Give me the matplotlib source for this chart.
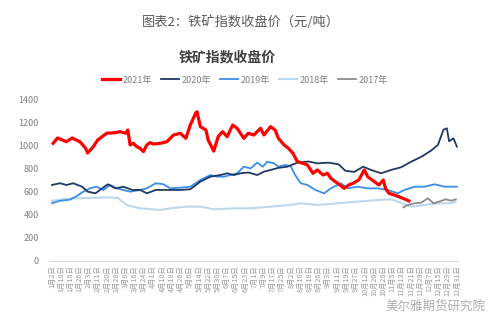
import numpy as np
import matplotlib
matplotlib.use("Agg")
import matplotlib.pyplot as plt

plt.rcParams['font.family'] = ['Noto Sans CJK SC', 'DejaVu Sans']

# day of year / index value for each year
d2021 = [3, 7, 15, 20, 27, 32, 34, 39, 43, 51, 59, 63, 68, 70, 72, 75, 78, 81, 84, 87,
         90, 93, 99, 105, 111, 117, 122, 126, 131, 132, 135, 140, 142, 147, 151, 155, 159,
         164, 168, 174, 178, 183, 189, 192, 198, 202, 205, 210, 214, 218, 222, 227, 231,
         236, 240, 245, 249, 252, 258, 264, 268, 272, 277, 282, 285, 291, 295, 299, 301,
         304, 309, 313, 318, 322]
v2021 = [1017, 1063, 1031, 1063, 1031, 976, 933, 988, 1046, 1104, 1109, 1118, 1104, 1132,
         1003, 1017, 988, 974, 945, 1003, 1023, 1011, 1017, 1031, 1089, 1104, 1060, 1175,
         1282, 1290, 1161, 1132, 1046, 950, 1075, 1118, 1074, 1175, 1147, 1060, 1104, 1089,
         1147, 1089, 1161, 1132, 1060, 1003, 974, 931, 858, 844, 830, 758, 787, 743, 758,
         715, 672, 628, 657, 672, 700, 787, 729, 686, 657, 700, 628, 585, 570, 556, 536, 519]

d2020 = [2, 9, 15, 21, 29, 34, 41, 47, 52, 59, 66, 74, 81, 87, 95, 102, 110, 117, 126, 135,
         144, 153, 159, 165, 171, 178, 186, 192, 198, 205, 213, 222, 232, 240, 250, 259,
         265, 273, 281, 288, 297, 306, 315, 324, 333, 342, 348, 353, 356, 358, 362, 365]
v2020 = [657, 672, 657, 672, 642, 599, 585, 628, 663, 628, 642, 614, 614, 585, 614, 614,
         614, 614, 620, 686, 729, 743, 758, 743, 758, 765, 743, 772, 787, 805, 815, 850,
         860, 844, 850, 835, 780, 770, 815, 787, 758, 787, 810, 858, 900, 955, 1003, 1135,
         1147, 1035, 1060, 988]

d2019 = [2, 9, 18, 24, 30, 36, 42, 48, 54, 60, 66, 72, 81, 87, 95, 102, 108, 117, 126, 135,
         144, 150, 156, 162, 168, 174, 180, 186, 191, 195, 201, 205, 211, 216, 220, 225,
         231, 238, 246, 252, 261, 267, 276, 285, 294, 303, 312, 318, 327, 336, 345, 354, 365]
v2019 = [500, 520, 530, 560, 599, 628, 642, 614, 657, 628, 614, 599, 614, 628, 672, 663,
         628, 634, 642, 700, 743, 729, 729, 743, 758, 815, 800, 850, 815, 858, 844, 815,
         830, 820, 743, 672, 657, 614, 585, 628, 672, 628, 642, 628, 628, 614, 585, 614,
         642, 642, 663, 642, 642]

d2018 = [2, 18, 36, 54, 61, 69, 81, 99, 108, 123, 135, 147, 165, 180, 198, 216, 225, 240,
         258, 276, 294, 306, 312, 324, 336, 348, 360, 364]
v2018 = [520, 540, 545, 550, 545, 484, 455, 441, 455, 470, 470, 447, 455, 455, 470, 484,
         499, 484, 499, 513, 527, 533, 513, 470, 484, 499, 499, 513]

d2017 = [317, 321, 327, 333, 339, 344, 349, 355, 360, 364]
v2017 = [464, 484, 499, 504, 542, 499, 513, 533, 521, 533]

xlabels = ["1月2日", "1月10日", "1月18日", "1月26日", "2月3日", "2月11日", "2月20日", "2月28日",
           "3月8日", "3月16日", "3月24日", "4月1日", "4月10日", "4月18日", "4月26日", "5月6日",
           "5月14日", "5月22日", "5月30日", "6月7日", "6月15日", "6月23日", "7月1日", "7月9日",
           "7月17日", "7月25日", "8月2日", "8月10日", "8月18日", "8月26日", "9月3日", "9月11日",
           "9月19日", "9月27日", "10月12日", "10月20日", "10月28日", "11月5日", "11月13日",
           "11月21日", "11月29日", "12月7日", "12月15日", "12月23日", "12月31日"]

fig = plt.figure(figsize=(5, 3.26), dpi=100)
ax = fig.add_axes([0.1, 0.1994, 0.816, 0.4969])

ax.plot(d2018, v2018, color="#bdd7ee", lw=1.5, label="2018年", zorder=2)
ax.plot(d2017, v2017, color="#8c8c8c", lw=1.3, label="2017年", zorder=3)
ax.plot(d2019, v2019, color="#3a8ee6", lw=1.3, label="2019年", zorder=4)
ax.plot(d2020, v2020, color="#203864", lw=1.3, label="2020年", zorder=5)
ax.plot(d2021, v2021, color="#ff0000", lw=2.3, label="2021年", zorder=6)

ax.set_xlim(0.2, 366)
ax.set_ylim(0, 1400)
ax.set_yticks(np.arange(0, 1401, 200))
ax.set_xticks(np.linspace(2, 365, len(xlabels)))
ax.set_xticklabels(xlabels, rotation=90, fontsize=5.2, color="#9a9a9a")
ax.tick_params(axis="y", labelsize=6.5, labelcolor="#7f7f7f", length=0, pad=8)
ax.tick_params(axis="x", length=0, pad=3)
for s in ["top", "right", "left"]:
    ax.spines[s].set_visible(False)
ax.spines["bottom"].set_color("#d9d9d9")

handles, labels = ax.get_legend_handles_labels()
order = [4, 3, 2, 0, 1]
fig.legend([handles[i] for i in order], [labels[i] for i in order],
           loc="center", bbox_to_anchor=(0.49, 1 - 80 / 326), ncol=5, frameon=False,
           fontsize=6.5, handlelength=2.0, handletextpad=0.3, columnspacing=1.0,
           labelcolor="#7f7f7f")

fig.text(0.482, 1 - 22 / 326, "图表2：铁矿指数收盘价（元/吨）", ha="center", va="center",
         fontsize=9.5, color="#595959")
fig.text(0.454, 1 - 57 / 326, "铁矿指数收盘价", ha="center", va="center",
         fontsize=10, fontweight="bold", color="#404040")
fig.text(0.97, 1 - 306 / 326, "美尔雅期货研究院", ha="right", va="center",
         fontsize=9, color="#9a9a9a", alpha=0.8)

fig.savefig("out.png", dpi=100)
